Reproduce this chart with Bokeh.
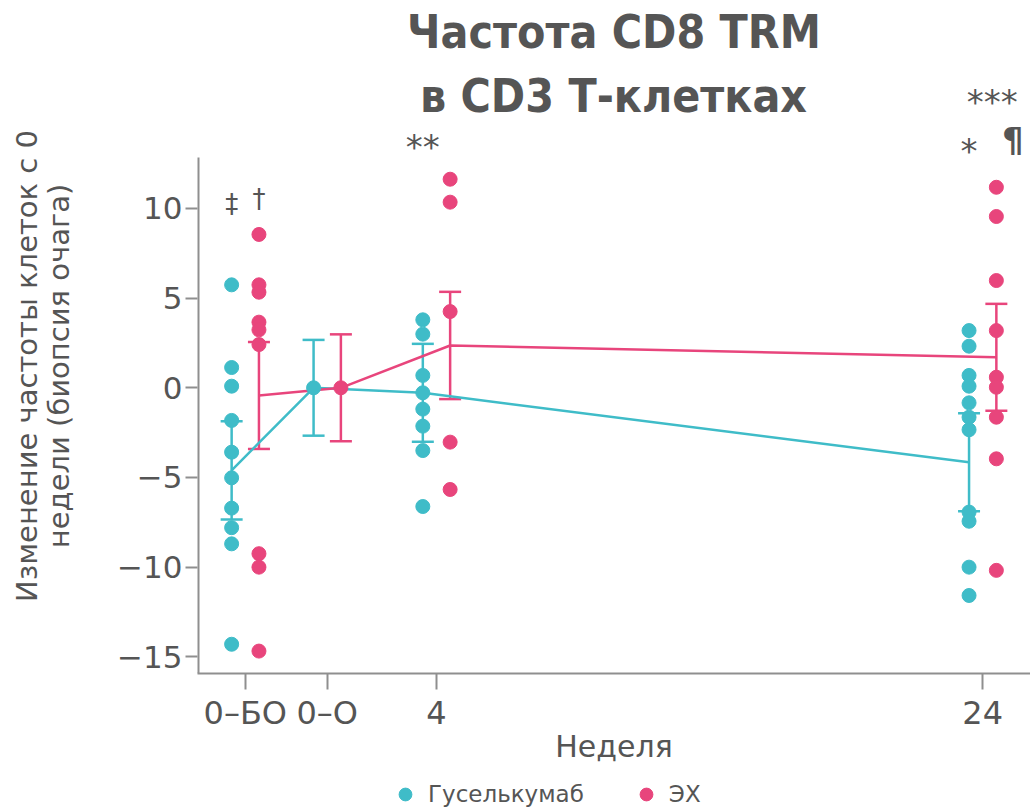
from bokeh.plotting import figure
from bokeh.layouts import column
from bokeh.models import (ColumnDataSource, Whisker, TeeHead, Label, Legend, LegendItem,
                          FixedTicker, Range1d, LinearAxis)
from bokeh.embed import file_html
from bokeh.resources import INLINE

# ---------------- data ----------------
timepoints = [-3, 0, 4, 24]
tick_labels = ["0–БО", "0–О", "4", "24"]
group_names = ["Гуселькумаб", "ЭХ"]

guse_0bo = [5.74, 1.13, 0.09, -1.82, -3.59, -5.02, -6.71, -7.80, -8.70, -14.3]
guse_0o = [0.0]
guse_w4 = [3.79, 2.99, 0.69, -0.28, -1.19, -2.14, -3.50, -6.62]
guse_w24 = [3.19, 2.32, 0.69, 0.09, -0.84, -1.64, -2.34, -6.93, -7.44, -10.0, -11.58]

ex_0bo = [8.55, 5.74, 5.33, 3.66, 3.23, 2.41, -9.25, -10.0, -14.68]
ex_0o = [0.0]
ex_w4 = [11.63, 10.35, 4.25, -3.03, -5.67]
ex_w24 = [11.18, 9.55, 5.98, 3.19, 0.59, 0.03, -1.64, -3.96, -10.18]

guse_mean = [-4.6, 0.0, -0.28, -4.15]
guse_se = [2.74, 2.67, 2.73, 2.73]
ex_mean = [-0.43, 0.0, 2.36, 1.7]
ex_se = [2.98, 2.98, 2.99, 2.98]

y_ticks = [-15, -10, -5, 0, 5, 10]
y_axis_top = 12.84

teal = "#3FBCC8"
pink = "#E8457C"
txt = "#555555"
axis_col = "#8f8f8f"
FONT = "DejaVu Sans"
dodge = 0.5


def pts(groups, shift):
    xs, ys = [], []
    for tp, vals in zip(timepoints, groups):
        xs += [tp + shift] * len(vals)
        ys += vals
    return ColumnDataSource(dict(x=xs, y=ys))


src_g = pts([guse_0bo, guse_0o, guse_w4, guse_w24], -dodge)
src_e = pts([ex_0bo, ex_0o, ex_w4, ex_w24], dodge)

src_gm = ColumnDataSource(dict(
    x=[t - dodge for t in timepoints], m=guse_mean,
    lo=[m - s for m, s in zip(guse_mean, guse_se)],
    hi=[m + s for m, s in zip(guse_mean, guse_se)]))
src_em = ColumnDataSource(dict(
    x=[t + dodge for t in timepoints], m=ex_mean,
    lo=[m - s for m, s in zip(ex_mean, ex_se)],
    hi=[m + s for m, s in zip(ex_mean, ex_se)]))

# ---------------- main figure ----------------
x0, x1, y0, y1 = -4.75, 25.75, -15.93, 18.36
p = figure(width=1030, height=770, output_backend="svg", toolbar_location=None,
           x_range=Range1d(x0, x1), y_range=Range1d(y0, y1),
           min_border_left=197, min_border_right=0, min_border_top=58,
           min_border_bottom=97)
p.outline_line_color = None
p.grid.visible = False

# title, first line (above the frame)
p.title.text = "Частота CD8 TRM"
p.title.align = "center"
p.title.vertical_align = "bottom"
p.title.standoff = 0
p.title.text_font = "DejaVu Sans Condensed"
p.title.text_font_size = "46px"
p.title.text_font_style = "bold"
p.title.text_color = txt

# visible part of the y axis line
p.segment(x0=[x0], y0=[y0], x1=[x0], y1=[y_axis_top], line_color=axis_col, line_width=4)

p.line("x", "m", source=src_gm, line_color=teal, line_width=2.5)
p.line("x", "m", source=src_em, line_color=pink, line_width=2.5)

for src, col in [(src_gm, teal), (src_em, pink)]:
    w = Whisker(base="x", upper="hi", lower="lo", source=src, dimension="height",
                line_color=col, line_width=2.5,
                upper_head=TeeHead(size=22, line_color=col, line_width=2.5),
                lower_head=TeeHead(size=22, line_color=col, line_width=2.5))
    p.add_layout(w)

p.scatter("x", "y", source=src_g, size=14, fill_color=teal, line_color=teal)
p.scatter("x", "y", source=src_e, size=14, fill_color=pink, line_color=pink)

# ---------------- axes ----------------
p.xaxis.ticker = FixedTicker(ticks=timepoints)
p.xaxis.major_label_overrides = dict(zip(timepoints, tick_labels))
p.xaxis.major_tick_out = 16
p.xaxis.major_label_standoff = 4
p.xaxis.major_label_text_font_size = "32px"
p.xaxis.axis_label = "Неделя"
p.xaxis.axis_label_text_font_size = "30px"
p.xaxis.axis_label_standoff = -6
p.xaxis.axis_line_color = axis_col
p.xaxis.axis_line_width = 2

p.yaxis.ticker = FixedTicker(ticks=y_ticks)
p.yaxis.major_label_overrides = {t: (str(t).replace("-", "−")) for t in y_ticks}
p.yaxis.major_tick_out = 12
p.yaxis.major_label_standoff = 3
p.yaxis.major_label_text_font_size = "31px"
p.yaxis.axis_line_color = None
p.yaxis.axis_label = "недели (биопсия очага)"
p.yaxis.axis_label_text_font_size = "29px"
p.yaxis.axis_label_standoff = 38

for ax in (p.xaxis[0], p.yaxis[0]):
    ax.major_tick_in = 0
    ax.minor_tick_line_color = None
    ax.major_tick_line_color = axis_col
    ax.major_tick_line_width = 2
    ax.major_label_text_color = txt
    ax.major_label_text_font = FONT
    ax.axis_label_text_color = txt
    ax.axis_label_text_font = FONT
    ax.axis_label_text_font_style = "normal"

# first line of the y axis title: a tick-less axis further out on the left
ax2 = LinearAxis(ticker=FixedTicker(ticks=[]), axis_line_color=None,
                 major_tick_out=0, major_tick_in=0, minor_tick_out=0, minor_tick_in=0,
                 major_label_standoff=0,
                 axis_label="Изменение частоты клеток с 0", axis_label_standoff=-4,
                 axis_label_text_font=FONT, axis_label_text_font_size="29px",
                 axis_label_text_font_style="normal", axis_label_text_color=txt)
p.add_layout(ax2, "left")

# ---------------- texts inside the frame ----------------
def lab(x, y, text, size, **kw):
    opts = dict(text_font=FONT, text_color=txt, text_align="center",
                text_baseline="alphabetic", text_font_size=size)
    opts.update(kw)
    p.add_layout(Label(x=x, y=y, text=text, **opts))

lab(10.48, 16.29, "в CD3 Т-клетках", "46px", text_font_style="bold",
    text_font="DejaVu Sans Condensed")

lab(-3.5, 10.27, "‡", "26px", text_baseline="middle")
lab(-2.5, 10.5, "†", "26px", text_baseline="middle")
lab(3.5, 13.45, "**", "34px")
lab(24.35, 15.96, "***", "34px")
lab(23.5, 13.23, "*", "34px")
lab(25.1, 13.8, "¶", "34px", text_baseline="middle", text_font_style="bold")

# ---------------- legend strip (separate small figure) ----------------
pl = figure(width=1030, height=37, output_backend="svg", toolbar_location=None,
            x_range=Range1d(0, 1), y_range=Range1d(0, 1), min_border=0)
pl.axis.visible = False
pl.grid.visible = False
pl.outline_line_color = None
lg = pl.scatter(x=[5], y=[5], size=14, fill_color=teal, line_color=teal)
le = pl.scatter(x=[5], y=[5], size=14, fill_color=pink, line_color=pink)
legend = Legend(items=[LegendItem(label=group_names[0], renderers=[lg]),
                       LegendItem(label=group_names[1], renderers=[le])],
                orientation="horizontal", location=(192, -3),
                glyph_width=32, glyph_height=32, label_standoff=7,
                spacing=46, padding=0, margin=0, border_line_color=None,
                background_fill_alpha=0, label_text_font_size="23px",
                label_text_color=txt, label_text_font=FONT)
pl.add_layout(legend)

open("out.html", "w").write(file_html(column(p, pl, spacing=0), INLINE))
